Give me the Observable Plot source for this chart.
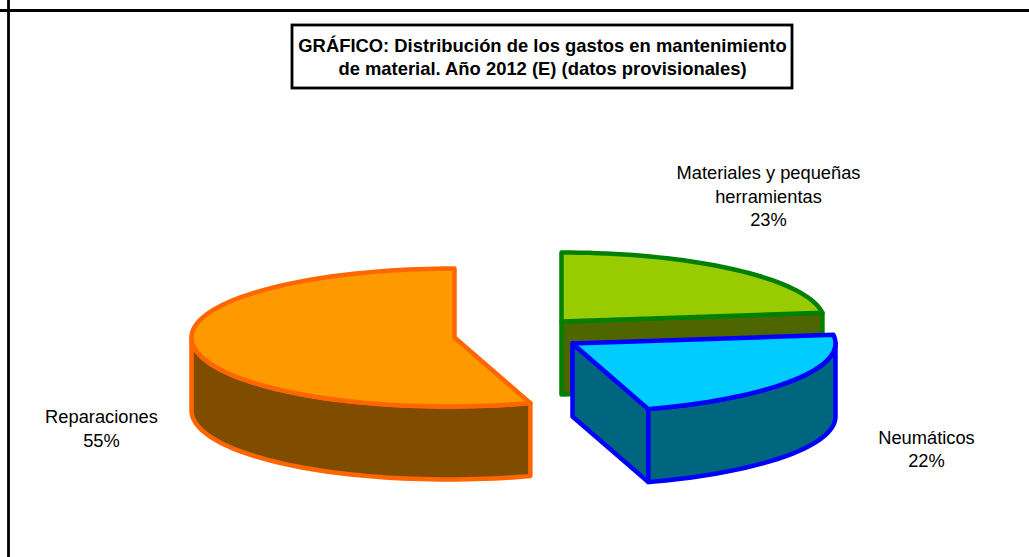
<!DOCTYPE html>
<html lang="es">
<head>
<meta charset="utf-8">
<script src="https://cdn.jsdelivr.net/npm/d3@7"></script>
<script src="https://cdn.jsdelivr.net/npm/@observablehq/plot@0.6"></script>
<style>
html,body{margin:0;padding:0;background:#fff}
svg{display:block}
</style>
</head>
<body>
<div id="chart"></div>
<script>
const categories = ["Materiales y pequeñas\nherramientas", "Neumáticos", "Reparaciones"];
const shares = [23, 22, 55];
const topColors = ["#99CC00", "#00CCFF", "#FF9900"];
const sideColors = ["#4D6600", "#006680", "#804D00"];
const strokeColors = ["#008000", "#0000FF", "#FF6600"];
const titleLines = "GRÁFICO: Distribución de los gastos en mantenimiento\nde material. Año 2012 (E) (datos provisionales)";

// layout of each exploded slice and of its label
const centres = [[561, 321], [572, 343], [454, 337]];
const labelAt = [[768, 194.5], [926, 447.5], [101, 427]];
const rx = 263, ry = 69, depth = 73, skew = 0.087;

const W = 1029, H = 557;
const toRad = Math.PI / 180;
let acc = 0;
const spans = shares.map(s => { const a = acc; acc += s * 3.6; return [a, acc]; });

function pt(i, deg, d = 0) {
  const [cx, cy] = centres[i];
  const dx = Math.sin(deg * toRad) * rx;
  const dy = -Math.cos(deg * toRad) * ry;
  const lean = dy > 0 ? skew * dy * dy / ry : 0;
  return {x: cx + dx - lean, y: cy + dy + d};
}
function arc(i, a0, a1, d = 0) {
  const n = Math.max(2, Math.ceil(Math.abs(a1 - a0) / 2));
  return d3.range(n + 1).map(k => pt(i, a0 + (a1 - a0) * k / n, d));
}
const apex = (i, d = 0) => ({x: centres[i][0], y: centres[i][1] + d});
const close = p => [...p, p[0]];

function topFace(i) { const [a, b] = spans[i]; return close([apex(i), ...arc(i, a, b)]); }
function cutFace(i, deg) { return close([apex(i), pt(i, deg), pt(i, deg, depth), apex(i, depth)]); }
function rimFace(i, a, b) { return close([...arc(i, a, b), ...arc(i, b, a, depth)]); }

function face(points, i, fill) {
  return Plot.line(points, {x: "x", y: "y", fill, stroke: strokeColors[i], strokeWidth: 4.5, strokeLinejoin: "round", strokeLinecap: "round"});
}

const marks = [
  // frame
  Plot.ruleY([10], {stroke: "#000", strokeWidth: 2.8}),
  Plot.ruleX([8], {stroke: "#000", strokeWidth: 2.8}),
  // green slice
  face(cutFace(0, spans[0][1]), 0, sideColors[0]),
  face(topFace(0), 0, topColors[0]),
  // blue slice: only the part of the rim that faces the viewer
  face(cutFace(1, spans[1][1]), 1, sideColors[1]),
  face(rimFace(1, 90, spans[1][1]), 1, sideColors[1]),
  face(topFace(1), 1, topColors[1]),
  // orange slice
  face(rimFace(2, spans[2][0], 270), 2, sideColors[2]),
  face(topFace(2), 2, topColors[2]),
  // title box
  Plot.rect([{x1: 292, x2: 792, y1: 25, y2: 88}], {x1: "x1", x2: "x2", y1: "y1", y2: "y2", fill: "#fff", stroke: "#000", strokeWidth: 2.8}),
  Plot.text([titleLines], {x: () => 542, y: () => 55.5, text: d => d, fontWeight: "bold", fontSize: 18.4, lineHeight: 1.25, fill: "#000", fontFamily: "Liberation Sans"}),
  // labels
  Plot.text(categories.map((c, i) => ({t: `${c}\n${shares[i]}%`, x: labelAt[i][0], y: labelAt[i][1]})), {
    x: "x", y: "y", text: "t", fontSize: 18.3, lineHeight: 1.28, fill: "#000", fontFamily: "Liberation Sans"
  })
];

document.getElementById("chart").append(Plot.plot({
  width: W, height: H,
  margin: 0,
  style: {background: "#fff"},
  x: {domain: [0, W], range: [0, W], axis: null},
  y: {domain: [0, H], range: [0, H], axis: null},
  marks
}));
</script>
</body>
</html>
